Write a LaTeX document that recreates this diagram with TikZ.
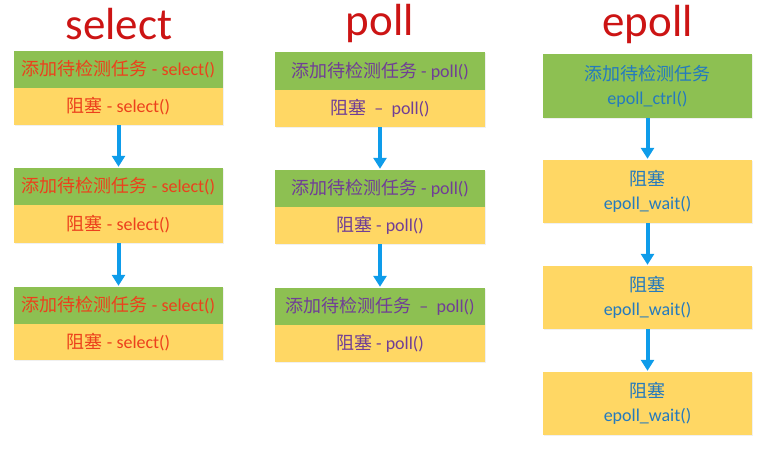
\documentclass[tikz,border=0pt]{standalone}
\usepackage{fontspec}
\setmainfont{Carlito}
\newfontfamily\cjk{Noto Sans CJK SC}
\usetikzlibrary{arrows.meta,shadows}
\definecolor{boxgreen}{RGB}{141,192,82}
\definecolor{boxyellow}{RGB}{255,215,100}
\definecolor{titlered}{RGB}{204,20,20}
\definecolor{selred}{RGB}{236,64,28}
\definecolor{pollpurple}{RGB}{112,62,150}
\definecolor{epollblue}{RGB}{36,122,190}
\definecolor{arrowblue}{RGB}{14,156,234}
\newcommand{\zh}[1]{{\cjk #1}}
\begin{document}
\begin{tikzpicture}[x=1pt,y=-1pt,
  box/.style={rectangle, inner sep=0pt, font=\fontsize{18}{24}\selectfont, align=center,
    drop shadow={opacity=0.12, shadow xshift=1pt, shadow yshift=-1pt}},
  gbox/.style={box, fill=boxgreen},
  ybox/.style={box, fill=boxyellow},
  title/.style={font=\fontsize{45}{50}\selectfont, text=titlered, anchor=base},
  arr/.style={-{Triangle[width=13pt,length=11pt]}, line width=4pt, draw=arrowblue, shorten >=1pt}
]
\useasboundingbox (0,0) rectangle (775,455);

% titles
\node[title] (tsel) at (119,39) {select};
\node[title] (tpol) at (380,35) {poll};
\node[title] (tepo) at (647.5,36) {epoll};

% select column
\begin{scope}[every node/.append style={minimum width=209pt, text=selred}]
\node[gbox, minimum height=37pt] (s1g) at (118.5,69.5) {\zh{添加待检测任务} - select()};
\node[ybox, minimum height=37pt] (s1y) at (118.5,106.5) {\zh{阻塞} - select()};
\node[gbox, minimum height=37pt] (s2g) at (118.5,186.5) {\zh{添加待检测任务} - select()};
\node[ybox, minimum height=38pt] (s2y) at (118.5,224) {\zh{阻塞} - select()};
\node[gbox, minimum height=37pt] (s3g) at (118.5,305.5) {\zh{添加待检测任务} - select()};
\node[ybox, minimum height=36pt] (s3y) at (118.5,342) {\zh{阻塞} - select()};
\end{scope}

% poll column
\begin{scope}[every node/.append style={minimum width=210pt, text=pollpurple}]
\node[gbox, minimum height=38pt] (p1g) at (380,71) {\zh{添加待检测任务} - poll()};
\node[ybox, minimum height=37pt] (p1y) at (380,108.5) {\zh{阻塞}\ \ --\ \ poll()};
\node[gbox, minimum height=37pt] (p2g) at (380,188.5) {\zh{添加待检测任务} - poll()};
\node[ybox, minimum height=37pt] (p2y) at (380,225.5) {\zh{阻塞} - poll()};
\node[gbox, minimum height=37pt] (p3g) at (380,306.5) {\zh{添加待检测任务}\ \ --\ \ poll()};
\node[ybox, minimum height=37pt] (p3y) at (380,343.5) {\zh{阻塞} - poll()};
\end{scope}

% epoll column
\begin{scope}[every node/.append style={minimum width=209pt, text=epollblue}]
\node[gbox, minimum height=64pt] (e1) at (647.5,86) {\zh{添加待检测任务}\\epoll\_ctrl()};
\node[ybox, minimum height=63pt] (e2) at (647.5,191.5) {\zh{阻塞}\\epoll\_wait()};
\node[ybox, minimum height=63pt] (e3) at (647.5,297.5) {\zh{阻塞}\\epoll\_wait()};
\node[ybox, minimum height=63pt] (e4) at (647.5,403.5) {\zh{阻塞}\\epoll\_wait()};
\end{scope}

% arrows
\draw[arr] (s1y.south) -- (s2g.north);
\draw[arr] (s2y.south) -- (s3g.north);
\draw[arr] (p1y.south) -- (p2g.north);
\draw[arr] (p2y.south) -- (p3g.north);
\draw[arr] (e1.south) -- (e2.north);
\draw[arr] (e2.south) -- (e3.north);
\draw[arr] (e3.south) -- (e4.north);
\end{tikzpicture}
\end{document}
